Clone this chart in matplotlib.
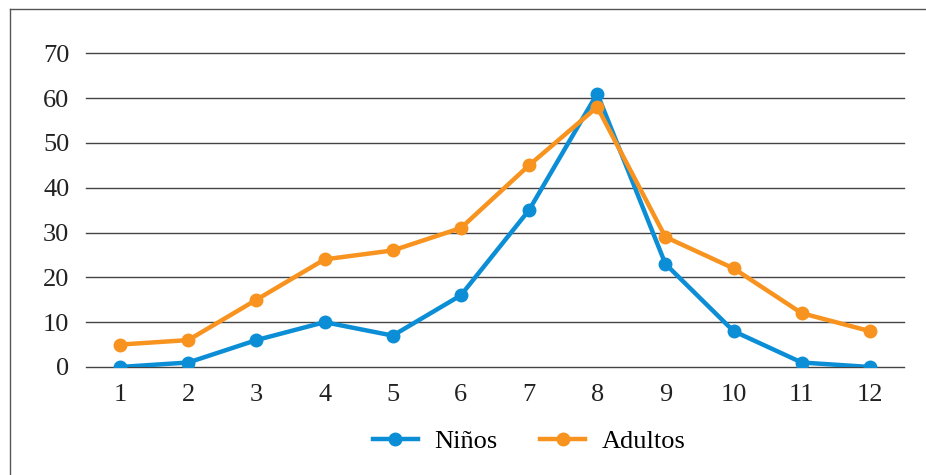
import matplotlib.pyplot as plt
from matplotlib.lines import Line2D

meses = [1, 2, 3, 4, 5, 6, 7, 8, 9, 10, 11, 12]
ninos = [0, 1, 6, 10, 7, 16, 35, 61, 23, 8, 1, 0]
adultos = [5, 6, 15, 24, 26, 31, 45, 58, 29, 22, 12, 8]

plt.rcParams['font.family'] = ['Liberation Serif', 'DejaVu Serif']

fig = plt.figure(figsize=(9.26, 4.75), dpi=100)
ax = fig.add_axes([0.0929, 0.2274, 0.8833, 0.6606])

ax.plot(meses, ninos, color='#0b8ed6', lw=3.2, marker='o', ms=9, label='Niños', zorder=3)
ax.plot(meses, adultos, color='#f7931e', lw=3.2, marker='o', ms=9, label='Adultos', zorder=3)

ax.set_xlim(0.5, 12.5)
ax.set_ylim(0, 70)
ax.set_yticks(range(0, 71, 10))
ax.set_xticks(meses)
ax.grid(axis='y', color='#444444', lw=1)
for gl in ax.get_ygridlines():
    gl.set_clip_on(False)
ax.set_axisbelow(True)
for s in ax.spines.values():
    s.set_visible(False)
ax.tick_params(length=0, labelsize=19, colors='#222222', pad=12)
ax.tick_params(axis='x', pad=12)

ax.legend(loc='upper center', bbox_to_anchor=(0.542, -0.125), ncol=2, frameon=False,
          fontsize=19, handlelength=1.7, columnspacing=1.6, handletextpad=0.65)

# marco de la figura (izquierda y arriba)
fig.add_artist(Line2D([10/926, 10/926], [0, 1 - 9/475], color='#555555', lw=1))
fig.add_artist(Line2D([10/926, 1], [1 - 9/475, 1 - 9/475], color='#555555', lw=1))

fig.savefig('out.png', dpi=100)
